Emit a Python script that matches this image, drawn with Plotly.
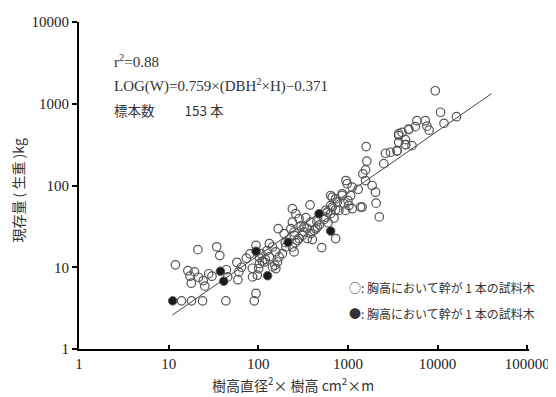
import plotly.graph_objects as go

# Open circles: DBH^2*H (cm^2*m) and biomass W (kg)
open_x = [11.9, 13.9, 18.0, 23.9, 43.5, 90.2, 94.3, 21.2, 34.4, 37.2,
          16.4, 17.3, 19.4, 17.9, 21.5, 24.3, 25.3, 28.0, 30.4, 44.1,
          45.6, 57.7, 60.7, 59.2, 73.6, 80.5, 86.4, 94.3, 103, 101,
          103, 111, 107, 117, 133, 133, 144, 157, 171, 153,
          157, 164, 186, 203, 167, 194, 231, 251, 251, 240,
          240, 262, 285, 285, 273, 324, 311, 324, 353, 401,
          385, 438, 385, 339, 419, 456, 541, 378, 589, 565,
          642, 669, 730, 794, 903, 864, 982, 730, 642, 730,
          510, 240, 251, 144, 97.5, 85.8, 1597, 2624, 3530, 3687,
          4764, 3687, 4409, 5180, 2512, 1626, 1573, 1468, 1573, 950,
          1116, 1862, 2032, 2063, 1384, 2239, 1072, 1000, 864, 669,
          760, 642, 943, 1116, 565, 1442, 1026, 9425, 10800, 11810,
          16260, 7300, 7605, 5890, 5650, 8050, 4764, 4013, 3687, 4378,
          4378, 3530, 2981, 120, 200, 350, 600, 700, 480, 260,
          65, 1300, 125, 300, 450]
open_y = [10.7, 3.88, 3.88, 3.88, 3.88, 3.88, 4.78, 16.4, 17.8, 13.9,
          9.07, 7.77, 8.77, 6.38, 7.55, 6.85, 5.87, 8.33, 7.77, 9.32,
          7.62, 11.5, 8.77, 7.04, 12.9, 14.6, 7.62, 18.5, 13.1, 9.64,
          11.1, 11.8, 14.7, 11.6, 13.4, 19.5, 17.7, 15.4, 13.4, 10.6,
          9.64, 11.6, 14.7, 17.7, 29.6, 25.8, 29.6, 26.9, 24.6, 35.7,
          52.0, 45.2, 39.3, 22.4, 21.3, 26.9, 24.6, 31.0, 22.4, 21.8,
          25.8, 29.6, 35.7, 40.4, 28.3, 31.0, 38.2, 57.8, 47.2, 41.1,
          45.2, 54.4, 50.5, 49.6, 59.8, 79.2, 105, 68.8, 75.5, 22.4,
          17.4, 17.7, 15.4, 10.1, 7.99, 9.72, 299, 248, 267, 431,
          482, 337, 316, 307, 185, 199, 155, 139, 115, 115,
          95.3, 100, 82.8, 60.8, 54.4, 41.3, 75.5, 65.6, 75.5, 72.0,
          62.5, 57.0, 49.6, 52.0, 49.6, 54.4, 57.0, 1442, 787, 575,
          694, 620, 532, 620, 524, 475, 491, 447, 407, 364,
          316, 264, 255, 12.5, 20.0, 30.0, 35.0, 40.0, 33.0, 20.0,
          10.0, 90.0, 16.0, 32.0, 36.0]

# Filled circles
filled_x = [11.1, 37.8, 41.2, 94.3, 127, 215, 476, 642]
filled_y = [3.88, 8.94, 6.75, 15.7, 7.88, 20.2, 45.2, 27.7]

# Regression line end points: LOG(W)=0.759*LOG(DBH^2*H)-0.371
fit_x = [11, 40000]
fit_y = [2.6, 1330]

tick_vals_x = [1, 10, 100, 1000, 10000, 100000]
tick_text_x = ["1", "10", "100", "1000", "10000", "100000"]
tick_vals_y = [1, 10, 100, 1000, 10000]
tick_text_y = ["1", "10", "100", "1000", "10000"]

SERIF = "Liberation Serif, Noto Sans CJK JP, serif"
JP = "Noto Sans CJK JP, Liberation Serif, serif"

fig = go.Figure()
fig.add_trace(go.Scatter(x=fit_x, y=fit_y, mode="lines",
                         line=dict(color="#444444", width=1), showlegend=False))
fig.add_trace(go.Scatter(x=open_x, y=open_y, mode="markers",
                         marker=dict(symbol="circle-open", size=8.5,
                                     color="#555555", line=dict(width=1.2)),
                         showlegend=False))
fig.add_trace(go.Scatter(x=filled_x, y=filled_y, mode="markers",
                         marker=dict(symbol="circle", size=8.5, color="#1a1a1a",
                                     line=dict(color="#555555", width=1)),
                         showlegend=False))

fig.update_xaxes(type="log", range=[0, 5.02], tickvals=tick_vals_x, ticktext=tick_text_x,
                 showline=True, linecolor="black", linewidth=2, ticks="inside",
                 ticklen=4, tickwidth=2, tickcolor="black", showgrid=False, zeroline=False,
                 automargin=False,
                 tickfont=dict(family=SERIF, size=15, color="#222"))
fig.update_yaxes(type="log", range=[0, 4], tickvals=tick_vals_y, ticktext=tick_text_y,
                 showline=True, linecolor="black", linewidth=2, ticks="outside",
                 ticklen=5, tickwidth=2, tickcolor="black", showgrid=False, zeroline=False,
                 automargin=False,
                 tickfont=dict(family=SERIF, size=15, color="#222"))

# axis titles as annotations (paper coords over the plot area)
fig.add_annotation(xref="paper", yref="paper", x=-0.136, y=0.484, xanchor="center", yanchor="middle",
                   text="現存量 ( 生重 )kg", textangle=-90, showarrow=False,
                   font=dict(family=JP, size=14, color="#333"))
fig.add_annotation(xref="paper", yref="paper", x=0.475, y=-0.108, xanchor="center", yanchor="middle",
                   text="樹高直径<sup>2</sup>× 樹高 cm<sup>2</sup>×m", showarrow=False,
                   font=dict(family=JP, size=14, color="#333"))

ann_font = dict(family=SERIF, size=15, color="#333")
fig.add_annotation(xref="paper", yref="paper", x=0.073, y=0.88, xanchor="left", yanchor="middle",
                   text="r<sup>2</sup>=0.88", showarrow=False, font=ann_font)
fig.add_annotation(xref="paper", yref="paper", x=0.073, y=0.806, xanchor="left", yanchor="middle",
                   text="LOG(W)=0.759×(DBH<sup>2</sup>×H)−0.371", showarrow=False, font=ann_font)
fig.add_annotation(xref="paper", yref="paper", x=0.073, y=0.73, xanchor="left", yanchor="middle",
                   text="標本数　　 153 本", showarrow=False,
                   font=dict(family=JP, size=13.5, color="#333"))
leg_font = dict(family=JP, size=12, color="#333")
fig.add_annotation(xref="paper", yref="paper", x=0.596, y=0.187, xanchor="left", yanchor="middle",
                   text="○: 胸高において幹が 1 本の試料木", showarrow=False, font=leg_font)
fig.add_annotation(xref="paper", yref="paper", x=0.596, y=0.11, xanchor="left", yanchor="middle",
                   text="●: 胸高において幹が 1 本の試料木", showarrow=False, font=leg_font)

# The page body adds an 8px offset, so the figure is sized 548x389
fig.update_layout(width=548, height=389, margin=dict(l=71, r=27, t=14, b=48),
                  paper_bgcolor="white", plot_bgcolor="white", showlegend=False)

fig.write_html("out.html")
